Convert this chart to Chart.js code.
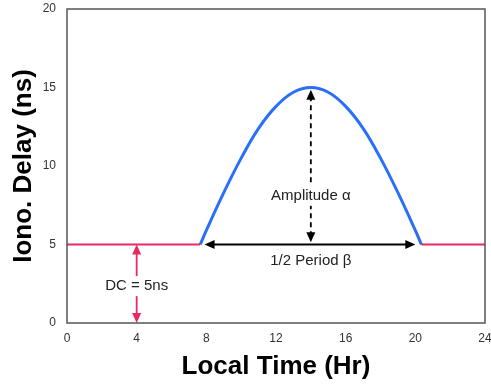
<!DOCTYPE html>
<html>
<head>
<meta charset="utf-8">
<script src="https://cdn.jsdelivr.net/npm/chart.js@4.4.1/dist/chart.umd.min.js"></script>
<style>
  html, body { margin: 0; padding: 0; background: #fff; }
  #wrap { width: 491px; height: 384px; }
</style>
</head>
<body>
<div id="wrap"><canvas id="ionoChart" width="491" height="384"></canvas></div>
<script>
// values
const curveHours = [7.65, 8, 9, 10, 11, 12, 13, 14, 15, 16, 17, 18, 19, 20, 20.35];
const curveDelay = [5, 5.9, 8.3, 10.5, 12.4, 13.8, 14.7, 15, 14.7, 13.8, 12.4, 10.5, 8.3, 5.9, 5];
const dcLeftHours = [0, 7.65];
const dcRightHours = [20.35, 24];
const dcLevel = 5;
const xTicks = [0, 4, 8, 12, 16, 20, 24];
const yTicks = [0, 5, 10, 15, 20];

// annotation arrows: [x1, y1, x2, y2] in data units
const amplitudeArrow = [14, 5.15, 14, 14.85];
const periodArrow = [7.9, 5, 20.0, 5];
const dcArrow = [4, 5, 4, 0];
const amplitudeLabel = { x: 14, y: 8.1, text: 'Amplitude \u03b1' };
const periodLabel = { x: 14, y: 3.95, text: '1/2 Period \u03b2' };
const dcLabel = { x: 4, y: 2.35, text: 'DC = 5ns' };

const blue = '#2a6ff7';
const pink = '#e62a62';

const toPoints = (xs, ys) => xs.map((x, i) => ({ x: x, y: ys[i] }));

function arrowHead(ctx, x, y, angle, color) {
    const len = 10, half = 4.5;
    ctx.save();
    ctx.translate(x, y);
    ctx.rotate(angle);
    ctx.fillStyle = color;
    ctx.beginPath();
    ctx.moveTo(0, 0);
    ctx.lineTo(-len, -half);
    ctx.lineTo(-len, half);
    ctx.closePath();
    ctx.fill();
    ctx.restore();
}

function drawArrow(ctx, xs, ys, a, color, dash) {
    const x1 = xs.getPixelForValue(a[0]), y1 = ys.getPixelForValue(a[1]);
    const x2 = xs.getPixelForValue(a[2]), y2 = ys.getPixelForValue(a[3]);
    const ang = Math.atan2(y2 - y1, x2 - x1);
    ctx.save();
    ctx.strokeStyle = color;
    ctx.lineWidth = 1.8;
    ctx.setLineDash(dash || []);
    ctx.beginPath();
    ctx.moveTo(x1 + Math.cos(ang) * 6, y1 + Math.sin(ang) * 6);
    ctx.lineTo(x2 - Math.cos(ang) * 6, y2 - Math.sin(ang) * 6);
    ctx.stroke();
    ctx.restore();
    arrowHead(ctx, x2, y2, ang, color);
    arrowHead(ctx, x1, y1, ang + Math.PI, color);
}

function drawLabel(ctx, xs, ys, lab) {
    const x = xs.getPixelForValue(lab.x), y = ys.getPixelForValue(lab.y);
    ctx.save();
    ctx.font = '15px "Liberation Sans", Arial, sans-serif';
    const w = ctx.measureText(lab.text).width;
    ctx.fillStyle = '#fff';
    ctx.fillRect(x - w / 2 - 3, y - 10, w + 6, 20);
    ctx.fillStyle = '#222';
    ctx.textAlign = 'center';
    ctx.textBaseline = 'middle';
    ctx.fillText(lab.text, x, y);
    ctx.restore();
}

const annotations = {
    id: 'annotations',
    afterDatasetsDraw(chart) {
        const ctx = chart.ctx, xs = chart.scales.x, ys = chart.scales.y;
        drawArrow(ctx, xs, ys, amplitudeArrow, '#000', [5, 4]);
        drawArrow(ctx, xs, ys, periodArrow, '#000');
        drawArrow(ctx, xs, ys, dcArrow, pink);
        drawLabel(ctx, xs, ys, amplitudeLabel);
        drawLabel(ctx, xs, ys, periodLabel);
        drawLabel(ctx, xs, ys, dcLabel);
        // plot frame
        const a = chart.chartArea;
        ctx.save();
        ctx.strokeStyle = '#555';
        ctx.lineWidth = 1.5;
        ctx.strokeRect(a.left, a.top, a.right - a.left, a.bottom - a.top);
        ctx.restore();
    }
};

const tickFont = { family: '"Liberation Sans", Arial, sans-serif', size: 12 };
const titleFont = { family: '"Liberation Sans", Arial, sans-serif', size: 26, weight: 'bold' };

new Chart(document.getElementById('ionoChart'), {
    type: 'scatter',
    data: {
        datasets: [
            { data: toPoints(dcLeftHours, dcLeftHours.map(() => dcLevel)), showLine: true, borderColor: pink, borderWidth: 2, pointRadius: 0 },
            { data: toPoints(dcRightHours, dcRightHours.map(() => dcLevel)), showLine: true, borderColor: pink, borderWidth: 2, pointRadius: 0 },
            { data: toPoints(curveHours, curveDelay), showLine: true, borderColor: blue, borderWidth: 3, pointRadius: 0, tension: 0.4 }
        ]
    },
    options: {
        responsive: false,
        animation: false,
        layout: { padding: { top: 9, right: 6, left: 0, bottom: 0 } },
        plugins: { legend: { display: false }, tooltip: { enabled: false } },
        scales: {
            x: {
                type: 'linear', min: 0, max: 24,
                afterBuildTicks: s => { s.ticks = xTicks.map(v => ({ value: v })); },
                afterFit: s => { s.height = 61; s.paddingLeft = 0; s.paddingRight = 0; },
                grid: { display: false, drawTicks: false },
                border: { display: false },
                ticks: { font: tickFont, color: '#333', padding: 8, maxRotation: 0 },
                title: { display: true, text: 'Local Time (Hr)', font: titleFont, color: '#000', padding: { top: 0, bottom: 2 } }
            },
            y: {
                type: 'linear', min: 0, max: 20,
                afterBuildTicks: s => { s.ticks = yTicks.map(v => ({ value: v })); },
                afterFit: s => { s.width = 67; s.paddingTop = 0; s.paddingBottom = 0; },
                grid: { display: false, drawTicks: false },
                border: { display: false },
                ticks: { font: tickFont, color: '#333', padding: 11 },
                title: { display: true, text: 'Iono. Delay (ns)', font: titleFont, color: '#000', padding: { top: 8, bottom: 0 } }
            }
        }
    },
    plugins: [annotations]
});
</script>
</body>
</html>
